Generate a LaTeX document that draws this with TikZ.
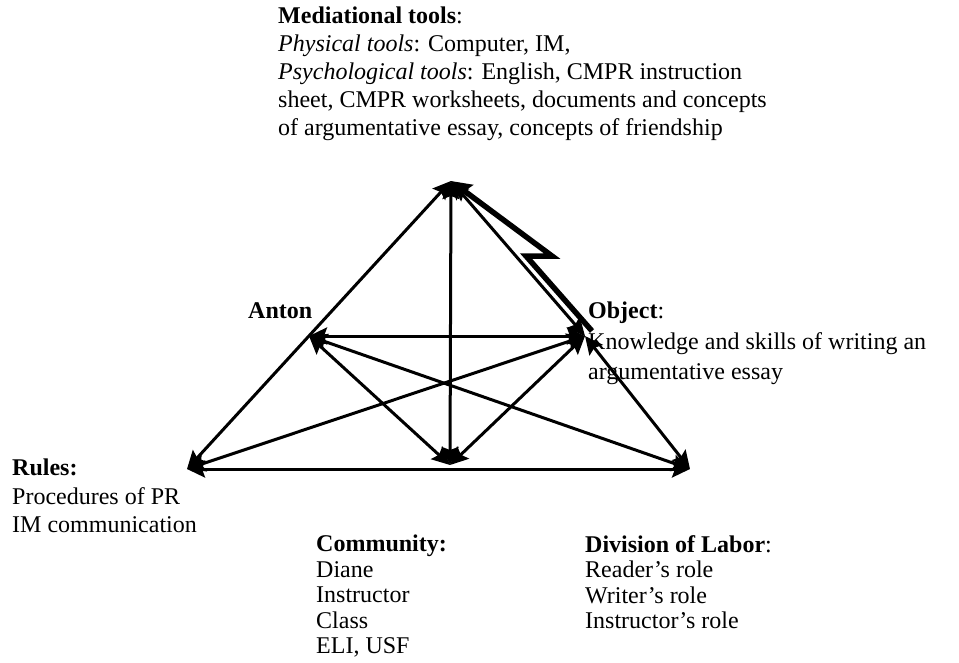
\documentclass[tikz,border=0pt]{standalone}
\usepackage{fontspec}
\setmainfont{Liberation Serif}
\usetikzlibrary{arrows.meta}
\begin{document}
\begin{tikzpicture}[x=1pt,y=-1pt,
  link/.style={line width=3pt, {Stealth[length=18pt,width=17pt,inset=3pt]}-{Stealth[length=18pt,width=17pt,inset=3pt]}},
  bolt/.style={line width=5.5pt, line join=miter, -{Stealth[length=20pt,width=20pt,inset=3pt]}},
  txt/.style={font=\fontsize{24}{28}\selectfont, align=left, inner sep=0pt, anchor=north west}]
\useasboundingbox (0,0) rectangle (959,662);

% vertices of the activity triangle
\coordinate (T)  at (451,181);
\coordinate (L)  at (309,336);
\coordinate (R)  at (585,336);
\coordinate (BL) at (187,469);
\coordinate (BM) at (450,465);
\coordinate (BR) at (690,469);

% sides and inner links
\draw[link] (T) -- (BL);
\draw[link] (T) -- (R);
\draw[link] (R) -- (BR);
\draw[link] (T) -- (BM);
\draw[link] (BL) -- (BR);
\draw[link] (L) -- (R);
\draw[link] (L) -- (BM);
\draw[link] (L) -- (BR);
\draw[link] (R) -- (BL);
\draw[link] (R) -- (BM);

% contradiction bolt from object back to tools
\coordinate (b0) at (592,331);
\coordinate (b1) at (526,256);
\coordinate (b2) at (552,256);
\draw[bolt] (b0) -- (b1) -- (b2) -- (T);

% labels
\node[txt] (tools) at (278,7) {\textbf{Mediational tools}:\\
  \textit{Physical tools}: Computer, IM,\\
  \textit{Psychological tools}: English, CMPR instruction\\
  sheet, CMPR worksheets, documents and concepts\\
  of argumentative essay, concepts of friendship};
\node[txt] (subject) at (248,302) {\textbf{Anton}};
\node[txt, font=\fontsize{24}{30.5}\selectfont] (object) at (588,302) {\textbf{Object}:\\
  Knowledge and skills of writing an\\
  argumentative essay};
\node[txt, font=\fontsize{24}{28.5}\selectfont] (rules) at (12,459) {\textbf{Rules:}\\
  Procedures of PR\\
  IM communication};
\node[txt, font=\fontsize{24}{25.5}\selectfont] (community) at (316,535) {\textbf{Community:}\\
  Diane\\
  Instructor\\
  Class\\
  ELI, USF};
\node[txt, font=\fontsize{24}{25.5}\selectfont] (division) at (585,535) {\textbf{Division of Labor}:\\
  Reader’s role\\
  Writer’s role\\
  Instructor’s role};
\end{tikzpicture}
\end{document}
